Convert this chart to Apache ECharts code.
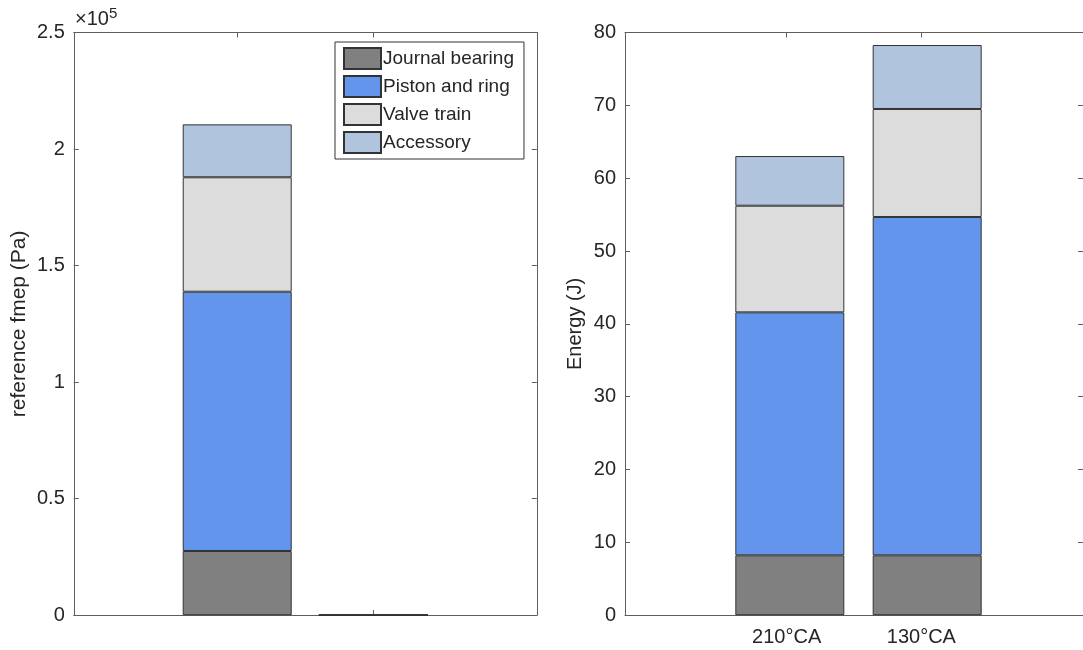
<!DOCTYPE html>
<html><head><meta charset="utf-8">
<script src="https://cdn.jsdelivr.net/npm/echarts@6/dist/echarts.min.js"></script>
<style>html,body{margin:0;padding:0;background:#fff}#c{width:1083px;height:650px}</style>
</head><body><div id="c"></div>
<script>
// ---- data ----
const seriesNames = ['Journal bearing', 'Piston and ring', 'Valve train', 'Accessory'];
const colors = ['#808080', '#6495ED', '#DCDCDC', '#B0C4DE'];
// left chart: reference fmep (Pa), two bar groups (second one is ~0)
const leftCats = ['1', '2'];
const leftJournal = [27540, 8.2];
const leftPiston = [111250, 33.4];
const leftValve = [49100, 14.6];
const leftAccessory = [22700, 6.8];
// right chart: Energy (J)
const rightCats = ['210°CA', '130°CA'];
const rightJournal = [8.22, 8.22];
const rightPiston = [33.36, 46.45];
const rightValve = [14.64, 14.83];
const rightAccessory = [6.82, 8.78];

const leftSets = [leftJournal, leftPiston, leftValve, leftAccessory];
const rightSets = [rightJournal, rightPiston, rightValve, rightAccessory];

const FONT = 'Liberation Sans';
const AX = '#5e5e5e';
const lineStyle = {color: AX, width: 1};
const txt = {color: '#262626', fontFamily: FONT, fontSize: 20};

// frame geometry (x positions -0.2 .. 3.2, bars at 1 and 2)
const G = {top: 32.5, height: 582.7};
const L = {left: 73.8, width: 463};
const R = {left: 625, width: 467};
function barGrid(g) {
  const step = g.width / 3.4;
  const c1 = g.left + 1.2 * step;
  return {left: c1 - step / 2, width: step * 2, top: G.top, height: G.height};
}

function xAx(grid, pos, labels) {
  return {
    type: 'value', gridIndex: grid, position: pos, min: -0.2, max: 3.2,
    axisLine: {show: true, onZero: false, lineStyle},
    splitLine: {show: false},
    axisTick: {show: true, inside: true, length: 5, customValues: [1, 2], lineStyle},
    axisLabel: labels ? Object.assign({show: true, customValues: [1, 2], margin: 12,
      formatter: v => rightCats[Math.round(v) - 1]}, txt) : {show: false}
  };
}
function yAx(grid, pos, max, interval, fmt, name, nameGap, labels, nameSize) {
  return {
    type: 'value', gridIndex: grid, position: pos, min: 0, max, interval,
    name: labels ? name : '', nameLocation: 'middle', nameGap,
    nameTextStyle: Object.assign({}, txt, {fontSize: nameSize || 20}),
    axisLine: {show: true, onZero: false, lineStyle},
    splitLine: {show: false},
    axisTick: {show: true, inside: true, length: 5, lineStyle},
    axisLabel: labels ? Object.assign({show: true, margin: 9, formatter: fmt}, txt) : {show: false}
  };
}
function hiddenX(grid, cats) {
  return {type: 'category', gridIndex: grid, data: cats, show: false, boundaryGap: true};
}
function hiddenY(grid, max) {
  return {type: 'value', gridIndex: grid, min: 0, max, show: false, splitLine: {show: false}};
}

const series = [];
seriesNames.forEach((n, i) => {
  series.push({
    name: n, type: 'bar', stack: 'L', xAxisIndex: 4, yAxisIndex: 4, barWidth: 109,
    itemStyle: {color: colors[i], borderColor: '#333', borderWidth: 1},
    data: leftSets[i]
  });
  series.push({
    name: n, type: 'bar', stack: 'R', xAxisIndex: 5, yAxisIndex: 5, barWidth: 109,
    itemStyle: {color: colors[i], borderColor: '#333', borderWidth: 1},
    data: rightSets[i]
  });
});

const chart = echarts.init(document.getElementById('c'), null, {renderer: 'canvas'});
chart.setOption({
  animation: false,
  backgroundColor: '#fff',
  grid: [
    Object.assign({}, L, G),
    Object.assign({}, R, G),
    barGrid(L),
    barGrid(R)
  ],
  xAxis: [xAx(0, 'bottom', false), xAx(0, 'top', false), xAx(1, 'bottom', true), xAx(1, 'top', false),
          hiddenX(2, leftCats), hiddenX(3, rightCats)],
  yAxis: [
    yAx(0, 'left', 250000, 50000, v => String(Math.round(v / 1e4) / 10), 'reference fmep (Pa)', 44, true, 21),
    yAx(0, 'right', 250000, 50000, null, '', 0, false),
    yAx(1, 'left', 80, 10, v => String(v), 'Energy (J)', 40, true, 20),
    yAx(1, 'right', 80, 10, null, '', 0, false),
    hiddenY(2, 250000), hiddenY(3, 80)
  ],
  legend: {
    orient: 'vertical', left: 335, top: 42,
    data: seriesNames,
    itemWidth: 37, itemHeight: 21, itemGap: 5,
    padding: [5, 10, 5, 8],
    borderColor: '#333', borderWidth: 1, backgroundColor: '#fff',
    icon: 'rect',
    textStyle: {color: '#262626', fontFamily: FONT, fontSize: 19, lineHeight: 21, padding: [0, 0, 0, -3]}
  },
  graphic: [{
    type: 'text', left: 75, top: 6,
    style: {
      text: '×10{s|5}', fill: '#262626', font: '20px "Liberation Sans"',
      rich: {s: {fontSize: 15, fontFamily: FONT, fill: '#262626', verticalAlign: 'top', padding: [0, 0, 12, 0]}}
    }
  }],
  series
});
</script></body></html>
